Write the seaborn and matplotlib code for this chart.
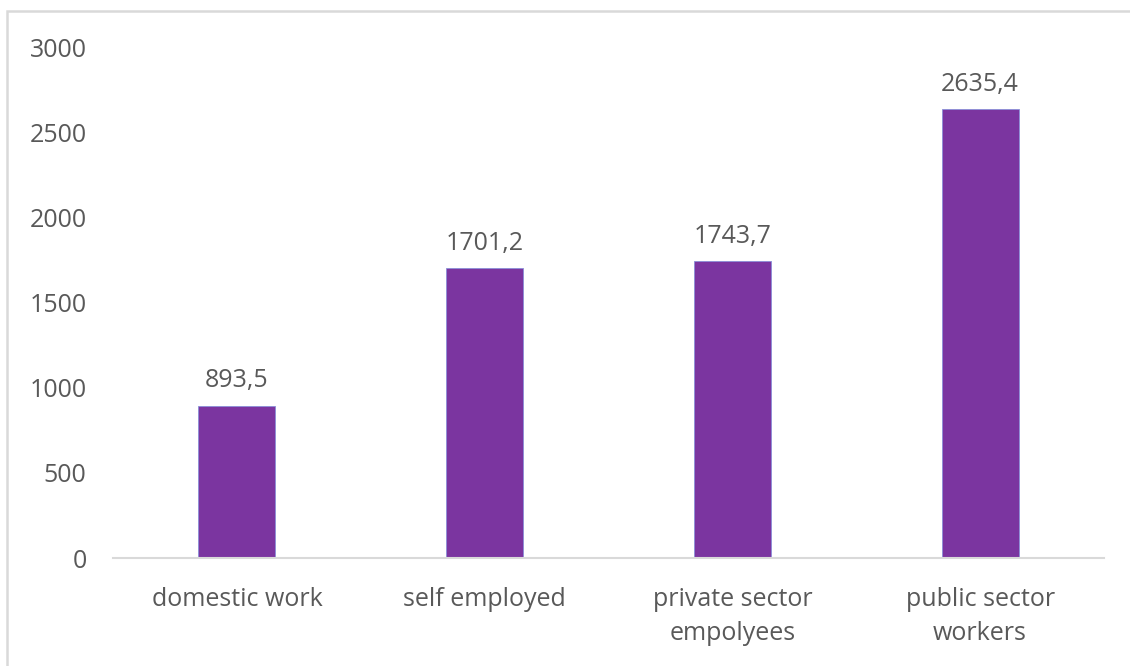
import matplotlib
matplotlib.use("Agg")
import matplotlib.pyplot as plt
from matplotlib.patches import Rectangle
import seaborn as sns
import pandas as pd

categories = ["domestic work", "self employed", "private sector\nempolyees", "public sector\nworkers"]
values = [893.5, 1701.2, 1743.7, 2635.4]
yticks = [0, 500, 1000, 1500, 2000, 2500, 3000]

sns.set_theme(style="white")
plt.rcParams["font.family"] = ["Open Sans", "DejaVu Sans"]

text_color = "#595959"
bar_color = "#7B35A0"

df = pd.DataFrame({"category": categories, "value": values})

fig = plt.figure(figsize=(11.3, 6.66), dpi=100)
ax = fig.add_axes([0.1, 0.162, 0.877, 0.767])

sns.barplot(data=df, x="category", y="value", color=bar_color, width=0.31,
            saturation=1, edgecolor="#8a8fd8", linewidth=0.6, ax=ax)

ax.set_ylim(0, 3000)
ax.set_xlim(-0.5, len(categories) - 0.5)
ax.set_yticks(yticks)
ax.set_yticklabels([str(t) for t in yticks])
ax.set_xlabel("")
ax.set_ylabel("")

for side in ["top", "right", "left"]:
    ax.spines[side].set_visible(False)
ax.spines["bottom"].set_color("#d9d9d9")
ax.spines["bottom"].set_linewidth(1.5)

ax.tick_params(axis="y", length=0, pad=19, labelsize=18, labelcolor=text_color)
ax.tick_params(axis="x", length=0, pad=21, labelsize=18, labelcolor=text_color)
for lbl in ax.get_xticklabels():
    lbl.set_linespacing(1.45)

for i, v in enumerate(values):
    ax.annotate(f"{v:.1f}".replace(".", ","), xy=(i, v), xytext=(0, 9),
                textcoords="offset points", ha="center", va="bottom",
                fontsize=18, color=text_color)

# outer chart frame
fig.patches.append(Rectangle((7 / 1130, -0.05), 1.2, (666 - 11) / 666 + 0.05,
                             transform=fig.transFigure, fill=False,
                             edgecolor="#d9d9d9", linewidth=1.8))

fig.savefig("out.png", dpi=100, facecolor="white")
